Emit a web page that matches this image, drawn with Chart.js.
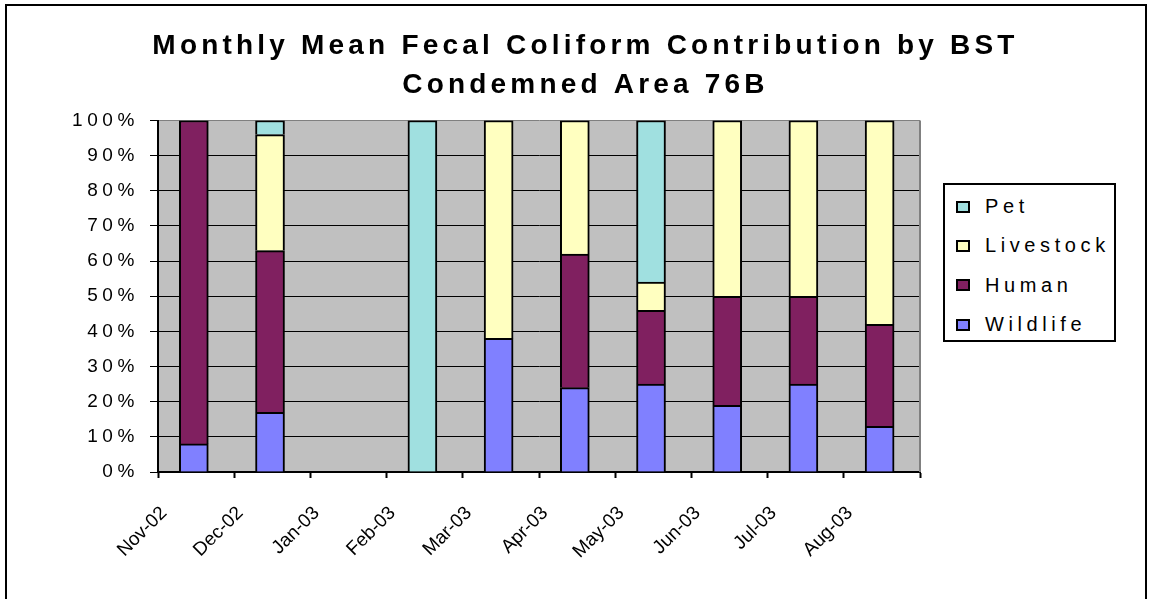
<!DOCTYPE html>
<html>
<head>
<meta charset="utf-8">
<script src="https://cdn.jsdelivr.net/npm/chart.js@4.4.0/dist/chart.umd.min.js"></script>
<style>
  html, body { margin: 0; padding: 0; background: #fff; }
  #wrap { position: relative; width: 1151px; height: 599px; overflow: hidden; }
  #grafico { position: absolute; left: 0; top: 0; }
  #frame { position: absolute; left: 5px; top: 4px; width: 1142px; height: 640px; border: 2px solid #000; box-sizing: border-box; pointer-events: none; }
  #legend { position: absolute; left: 943px; top: 183px; width: 173px; height: 159px; box-sizing: border-box; border: 2px solid #000; background: #fff; padding-top: 2px;
            font: 20px "Liberation Sans", Arial, sans-serif; letter-spacing: 4.6px; color: #000; }
  #legend .item { display: flex; align-items: center; height: 39.3px; padding-left: 11px; }
  #legend .box { width: 14px; height: 12px; box-sizing: border-box; border: 2px solid #000; margin-right: 15px; }
</style>
</head>
<body>
<div id="wrap">
  <canvas id="grafico" width="1151" height="599"></canvas>
  <div id="frame"></div>
  <div id="legend"></div>
</div>
<script>
// 1. DATA (percent of the monthly mean)
const months = ['Nov-02', 'Dec-02', 'Jan-03', 'Feb-03', 'Mar-03', 'Apr-03', 'May-03', 'Jun-03', 'Jul-03', 'Aug-03'];
const wildlife  = [8, 17, null, 0, 38, 24, 25, 19, 25, 13];
const human     = [92, 46, null, 0, 0, 38, 21, 31, 25, 29];
const livestock = [0, 33, null, 0, 62, 38, 8, 50, 50, 58];
const pet       = [0, 4, null, 100, 0, 0, 46, 0, 0, 0];
const yTicks = [0, 10, 20, 30, 40, 50, 60, 70, 80, 90, 100];
const title = ['Monthly Mean Fecal Coliform Contribution by BST', 'Condemned Area 76B'];

const midMonth = 0.47;   // samples sit in the middle of each month on the date axis
const font = '"Liberation Sans", Arial, sans-serif';

const series = [
    { label: 'Wildlife',  values: wildlife,  color: '#8080FF' },
    { label: 'Human',     values: human,     color: '#802060' },
    { label: 'Livestock', values: livestock, color: '#FFFFC0' },
    { label: 'Pet',       values: pet,       color: '#A0E0E0' }
];

// 2. PLOT BACKGROUND (grey area, grey frame on the right)
const plotArea = {
    id: 'plotArea',
    beforeDraw(chart) {
        const { ctx, chartArea: a } = chart;
        ctx.save();
        ctx.fillStyle = '#C0C0C0';
        ctx.fillRect(a.left, a.top, a.right - a.left, a.bottom - a.top);
        ctx.restore();
    },
    beforeDatasetsDraw(chart) {
        const { ctx, chartArea: a } = chart;
        ctx.save();
        ctx.strokeStyle = '#808080'; ctx.lineWidth = 2;
        ctx.beginPath(); ctx.moveTo(a.right, a.top); ctx.lineTo(a.right, a.bottom); ctx.stroke();
        ctx.restore();
    }
};

// 3. CHART
const chart = new Chart(document.getElementById('grafico'), {
    type: 'bar',
    data: {
        datasets: series.map(s => ({
            label: s.label,
            data: s.values.map((v, i) => ({ x: i + midMonth, y: v })),
            backgroundColor: s.color,
            borderColor: '#000',
            borderWidth: 2,
            barThickness: 29
        }))
    },
    options: {
        responsive: false, animation: false, devicePixelRatio: 1,
        layout: { padding: { left: 10, top: 11, right: 231, bottom: 0 } },
        plugins: {
            legend: { display: false },
            tooltip: { enabled: false },
            title: {
                display: true, text: title, color: '#000',
                font: { family: font, size: 28, weight: 'bold', lineHeight: 1.42 },
                padding: { top: 15, bottom: 15 }
            }
        },
        scales: {
            x: {
                type: 'linear', stacked: true, offset: false, min: 0, max: months.length,
                afterFit: s => { s.height = 127; },
                grid: { offset: false, drawOnChartArea: false, color: '#000', tickLength: 6, tickWidth: 2 },
                border: { color: '#000', width: 2 },
                ticks: {
                    stepSize: 1, autoSkip: false, minRotation: 45, maxRotation: 45,
                    color: '#000', font: { family: font, size: 19 }, padding: 24, labelOffset: 6,
                    callback: v => months[v] ?? ''
                }
            },
            y: {
                stacked: true, min: yTicks[0], max: yTicks[yTicks.length - 1],
                afterFit: s => { s.width = 148; },
                grid: { color: c => c.tick.value === 100 ? '#808080' : '#000', tickColor: '#000', lineWidth: 1, tickLength: 8, tickWidth: 1 },
                border: { color: '#000', width: 2 },
                afterBuildTicks: s => { s.ticks = yTicks.map(v => ({ value: v })); },
                ticks: { color: '#000', font: { family: font, size: 19 }, padding: 11, callback: v => v + '%' }
            }
        }
    },
    plugins: [plotArea]
});

// 4. EXCEL STYLE TEXT (spaced letters, title centred on the whole frame)
function spaced(target, method, spacing, before) {
    const original = target[method];
    target[method] = function (...args) {
        const ctx = chart.ctx;
        ctx.save();
        ctx.letterSpacing = spacing;
        const restore = before ? before(this) : null;
        original.apply(this, args);
        if (restore) restore();
        ctx.restore();
    };
}
spaced(chart.titleBlock, 'draw', '4.2px', t => {
    const { left, right } = t;
    t.left = 20; t.right = chart.width;
    return () => { t.left = left; t.right = right; };
});
spaced(chart.scales.y, 'drawLabels', '4.6px');
chart.draw();

// 5. LEGEND (Excel lists the top segment first)
const legend = document.getElementById('legend');
chart.data.datasets.slice().reverse().forEach(d => {
    legend.innerHTML += `<div class="item"><span class="box" style="background:${d.backgroundColor}"></span><span>${d.label}</span></div>`;
});
</script>
</body>
</html>
